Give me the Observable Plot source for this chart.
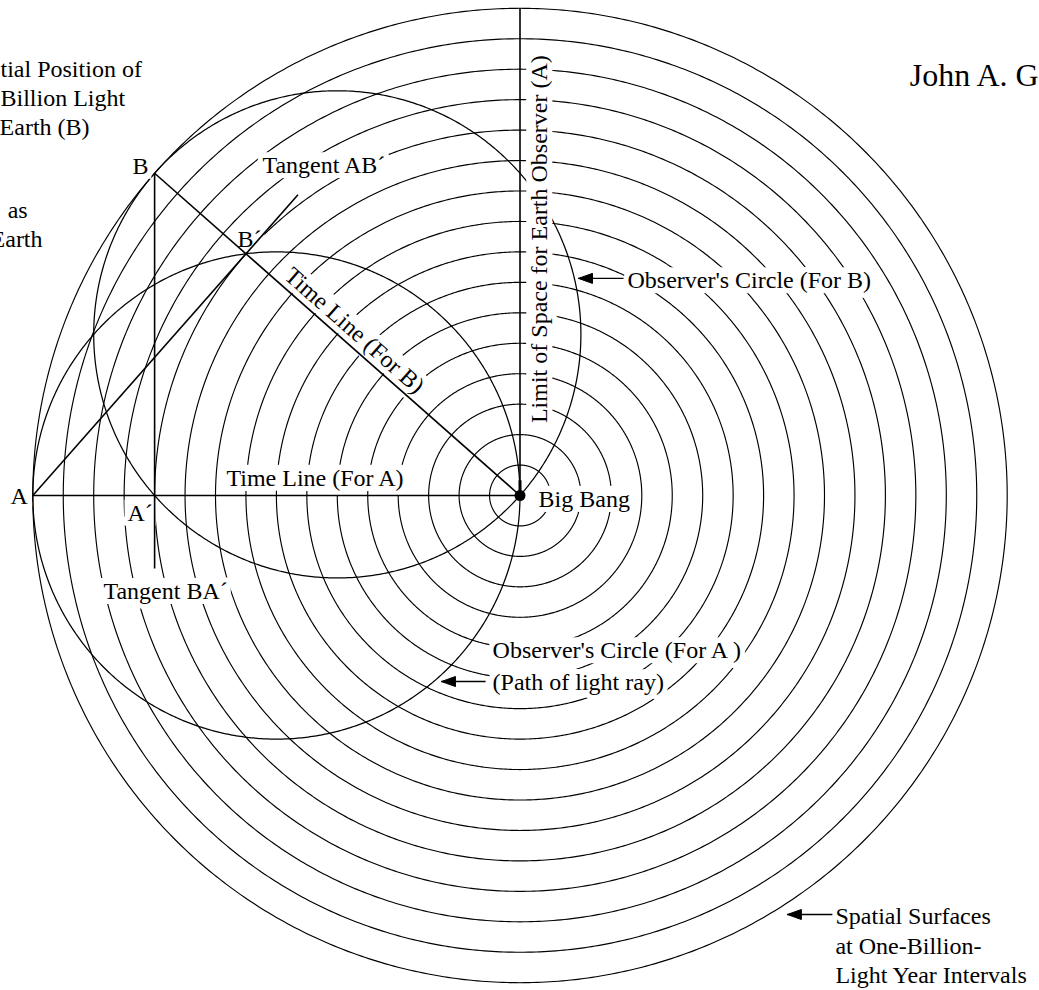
<!DOCTYPE html>
<html><head><meta charset="utf-8">
<script src="https://cdn.jsdelivr.net/npm/d3@7"></script>
<script src="https://cdn.jsdelivr.net/npm/@observablehq/plot@0.6"></script>
<style>body{margin:0;background:#fff;}</style>
</head><body><div id="chart"></div>
<script>
// ---- Data (units: billions of light years; Big Bang at the origin) ----
const spatialSurfaceRadii = [1,2,3,4,5,6,7,8,9,10,11,12,13,14,15,16];
const universeRadius = 16;
const observerA = [-16, 0];
const observerBAngleDeg = 138.59;      // angular position of B on the outer surface
const tangentABExtension = 1.244;      // tangent A->B' drawn a little past B'
const tangentBABottom = -2.4;          // tangent B->A' drawn a little below A'

const labelsStart = [
  {text: "A", x: -16.73, y: -0.03},
  {text: "A´", x: -12.89, y: -0.57},
  {text: "B", x: -12.73, y: 10.82},
  {text: "B´", x: -9.28, y: 8.42},
  {text: "Tangent AB´", x: -8.46, y: 10.84},
  {text: "Time Line (For A)", x: -9.64, y: 0.575},
  {text: "Big Bang", x: 0.61, y: -0.115},
  {text: "Observer's Circle (For B)", x: 3.53, y: 7.06},
  {text: "Observer's Circle (For A )", x: -0.90, y: -5.09},
  {text: "(Path of light ray)", x: -0.90, y: -6.14},
  {text: "Tangent BA´", x: -13.68, y: -3.14},
  {text: "tial Position of", x: -17.06, y: 14.01},
  {text: "Billion Light", x: -17.06, y: 13.04},
  {text: "Earth (B)", x: -17.09, y: 12.10},
  {text: "Spatial Surfaces", x: 10.36, y: -13.81},
  {text: "at One-Billion-", x: 10.36, y: -14.80},
  {text: "Light Year Intervals", x: 10.36, y: -15.75}
];
const labelsEnd = [
  {text: "as", x: -16.17, y: 9.38},
  {text: "Earth", x: -15.68, y: 8.42}
];
const labelsRotated = [
  {text: "Limit of Space for Earth Observer (A)", x: 0.64, y: 8.42, rotate: -90},
  {text: "Time Line (For B)", x: -5.435, y: 5.42, rotate: 41.4}
];
const titleLabel = [{text: "John A. G", x: 12.80, y: 13.78}];
const arrows = [
  {id: "forB", tip: [1.92, 7.13], tail: [3.40, 7.13]},
  {id: "light", tip: [-2.58, -6.11], tail: [-1.13, -6.11]},
  {id: "surfaces", tip: [8.78, -13.76], tail: [10.26, -13.76]}
];

// ---- Derived geometry ----
const th = observerBAngleDeg * Math.PI / 180;
const B = [universeRadius * Math.cos(th), universeRadius * Math.sin(th)];
// projection of A onto line O-B gives B'
const proj = observerA[0] * Math.cos(th) + observerA[1] * Math.sin(th);
const Bprime = [proj * Math.cos(th), proj * Math.sin(th)];
const tanEnd = [observerA[0] + tangentABExtension * (Bprime[0] - observerA[0]),
                observerA[1] + tangentABExtension * (Bprime[1] - observerA[1])];

function circlePts(cx, cy, r, id) {
  return d3.range(0, 721).map(i => {
    const a = i / 720 * 2 * Math.PI;
    return {x: cx + r * Math.cos(a), y: cy + r * Math.sin(a), id};
  });
}
const surfaces = spatialSurfaceRadii.flatMap(r => circlePts(0, 0, r, "s" + r));
const circleA = circlePts(observerA[0] / 2, observerA[1] / 2, universeRadius / 2, "A");
const circleB = circlePts(B[0] / 2, B[1] / 2, universeRadius / 2, "B");

const segments = [
  {x1: observerA[0], y1: observerA[1], x2: 0, y2: 0},          // time line A
  {x1: B[0], y1: B[1], x2: 0, y2: 0},                          // time line B
  {x1: 0, y1: 0, x2: 0, y2: universeRadius},                   // limit of space
  {x1: B[0], y1: B[1], x2: B[0], y2: tangentBABottom},         // tangent BA'
  {x1: observerA[0], y1: observerA[1], x2: tanEnd[0], y2: tanEnd[1]} // tangent AB'
];

const headLen = 0.46, headHalf = 0.165;
const arrowHeads = arrows.flatMap(a => {
  const dx = a.tail[0] - a.tip[0], dy = a.tail[1] - a.tip[1];
  const L = Math.hypot(dx, dy), ux = dx / L, uy = dy / L;
  const bx = a.tip[0] + headLen * ux, by = a.tip[1] + headLen * uy;
  return [
    {x: a.tip[0], y: a.tip[1], id: a.id},
    {x: bx - headHalf * uy, y: by + headHalf * ux, id: a.id},
    {x: bx + headHalf * uy, y: by - headHalf * ux, id: a.id},
    {x: a.tip[0], y: a.tip[1], id: a.id}
  ];
});

const font = "'Liberation Serif', 'Times New Roman', serif";
const fs = 24;
const gap = {fill: "white", stroke: "white", strokeWidth: 10, strokeLinejoin: "round"};

const chart = Plot.plot({
  width: 1039, height: 990, margin: 0,
  x: {domain: [-17.061, 17.061], axis: null},
  y: {domain: [-16.256, 16.256], axis: null},
  style: {background: "white"},
  marks: [
    Plot.line(surfaces, {x: "x", y: "y", z: "id", stroke: "black", strokeWidth: 1.15}),
    Plot.line(circleB, {x: "x", y: "y", z: "id", stroke: "black", strokeWidth: 1.25}),
    // white gaps in the surfaces around the labels
    Plot.text(labelsStart, {x: "x", y: "y", text: "text", textAnchor: "start", fontSize: fs, fontFamily: font, ...gap}),
    Plot.text(labelsEnd, {x: "x", y: "y", text: "text", textAnchor: "end", fontSize: fs, fontFamily: font, ...gap}),
    Plot.text(labelsRotated, {x: "x", y: "y", text: "text", rotate: "rotate", textAnchor: "middle", fontSize: fs, fontFamily: font, ...gap}),
    Plot.line(circleA, {x: "x", y: "y", z: "id", stroke: "black", strokeWidth: 1.25}),
    Plot.link(segments, {x1: "x1", y1: "y1", x2: "x2", y2: "y2", stroke: "black", strokeWidth: 1.6}),
    Plot.link(arrows, {x1: d => d.tip[0], y1: d => d.tip[1], x2: d => d.tail[0], y2: d => d.tail[1], stroke: "black", strokeWidth: 1.4}),
    Plot.line(arrowHeads, {x: "x", y: "y", z: "id", fill: "black", stroke: "black", strokeWidth: 1}),
    Plot.link([{x1: 0, y1: 0, x2: 0, y2: 0.5}], {x1: "x1", y1: "y1", x2: "x2", y2: "y2", stroke: "black", strokeWidth: 3}),
    Plot.dot([{x: 0, y: 0}], {x: "x", y: "y", r: 5.5, fill: "black", stroke: "none"}),
    Plot.text(labelsStart, {x: "x", y: "y", text: "text", textAnchor: "start", fontSize: fs, fontFamily: font, fill: "black"}),
    Plot.text(labelsEnd, {x: "x", y: "y", text: "text", textAnchor: "end", fontSize: fs, fontFamily: font, fill: "black"}),
    Plot.text(labelsRotated, {x: "x", y: "y", text: "text", rotate: "rotate", textAnchor: "middle", fontSize: fs, fontFamily: font, fill: "black"}),
    Plot.text(titleLabel, {x: "x", y: "y", text: "text", textAnchor: "start", fontSize: 32, fontFamily: font, fill: "black"})
  ]
});
document.getElementById("chart").appendChild(chart);

// give each gap label a clean white box (like the cut-outs in the original drawing)
const NS = "http://www.w3.org/2000/svg";
chart.querySelectorAll('g[fill="white"] text').forEach(t => {
  let b;
  try { b = t.getBBox(); } catch (e) { return; }
  if (!b || !b.width) return;
  const r = document.createElementNS(NS, "rect");
  r.setAttribute("x", b.x - 3);
  r.setAttribute("y", -0.55 * fs);
  r.setAttribute("width", b.width + 6);
  r.setAttribute("height", 1.08 * fs);
  const tr = t.getAttribute("transform");
  if (tr) r.setAttribute("transform", tr);
  r.setAttribute("fill", "white");
  r.setAttribute("stroke", "none");
  t.parentNode.insertBefore(r, t);
});
</script>
</body></html>
